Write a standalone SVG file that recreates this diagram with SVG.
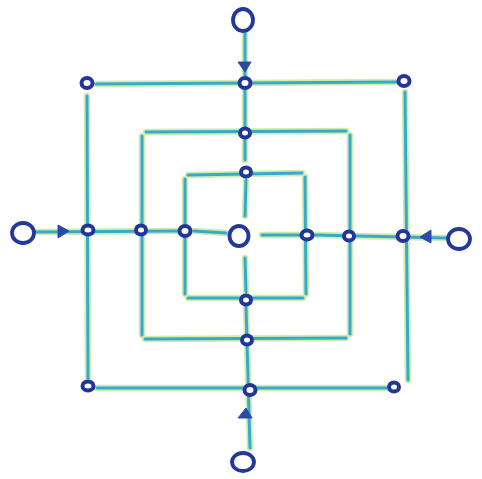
<svg xmlns="http://www.w3.org/2000/svg" width="482" height="479" viewBox="0 0 482 479">
<defs>
<filter id="soft" x="-5%" y="-5%" width="110%" height="110%"><feGaussianBlur stdDeviation="0.7"/></filter>
</defs>
<style>
.halo{stroke:#c6e79a;stroke-width:6.5;stroke-linecap:round;fill:none;opacity:0.8}
.ln{stroke:#36abcc;stroke-width:3;stroke-linecap:round;fill:none}
.nd{fill:#ffffff;stroke:#22369a;stroke-width:4}
.big{fill:#ffffff;stroke:#24389b;stroke-width:3.8}
.arr{fill:#2a4aa8;stroke:#2a4aa8;stroke-width:1}
</style>
<rect width="482" height="479" fill="#ffffff"/>
<g filter="url(#soft)">
<g id="connectors">
  <g class="halo">
    <path d="M96,84 L396,82 M87,96 L88,378 M405,92 L408,380 M97,388 L386,388"/>
    <path d="M146,132 L346,131 M142,136 L142,335 M350,135 L350,334 M145,339 L346,338"/>
    <path d="M188,175 L302,173 M185,179 L185,294 M305,177 L306,294 M188,298 L303,298"/>
    <path d="M245,32 L245,160 M246,180 L245,216 M245,258 L246,292 M246,306 L250,448"/>
    <path d="M36,232 L178,231 M194,231 L226,233 M262,235 L300,235 M315,235 L446,238"/>
  </g>
  <g class="ln">
    <path d="M96,84 L396,82 M87,96 L88,378 M405,92 L408,380 M97,388 L386,388"/>
    <path d="M146,132 L346,131 M142,136 L142,335 M350,135 L350,334 M145,339 L346,338"/>
    <path d="M188,175 L302,173 M185,179 L185,294 M305,177 L306,294 M188,298 L303,298"/>
    <path d="M245,32 L245,160 M246,180 L245,216 M245,258 L246,292 M246,306 L250,448"/>
    <path d="M36,232 L178,231 M194,231 L226,233 M262,235 L300,235 M315,235 L446,238"/>
  </g>
  <g id="arrowheads">
    <path class="arr" d="M238,62 L251,62 L245,72 Z"/>
    <path class="arr" d="M58,225 L58,238 L69,231 Z"/>
    <path class="arr" d="M431,230 L431,243 L420,237 Z"/>
    <path class="arr" d="M238,418 L252,418 L246,408 Z"/>
  </g>
</g>
<g id="in-top"><ellipse class="big" cx="243" cy="20" rx="10" ry="11"/></g>
<g id="in-left"><ellipse class="big" cx="23" cy="233" rx="11" ry="10"/></g>
<g id="in-right"><ellipse class="big" cx="459" cy="239" rx="11" ry="10"/></g>
<g id="in-bottom"><ellipse class="big" cx="243" cy="462" rx="11" ry="9"/></g>
<g id="center"><ellipse class="big" cx="239" cy="236" rx="9.5" ry="10" stroke-width="5.5"/></g>
<g id="c-tl"><ellipse class="nd" cx="87" cy="83" rx="5.5" ry="5"/></g>
<g id="c-tr"><ellipse class="nd" cx="404" cy="81" rx="5.5" ry="5"/></g>
<g id="c-bl"><ellipse class="nd" cx="88" cy="386" rx="5.5" ry="4.5"/></g>
<g id="c-br"><ellipse class="nd" cx="394" cy="387" rx="5" ry="4.5"/></g>
<g id="v1"><ellipse class="nd" cx="245" cy="83" rx="5.5" ry="5"/></g>
<g id="v2"><ellipse class="nd" cx="245" cy="133" rx="5" ry="4.5"/></g>
<g id="v3"><ellipse class="nd" cx="246" cy="172" rx="5" ry="4.5"/></g>
<g id="v4"><ellipse class="nd" cx="246" cy="300" rx="5" ry="4.5"/></g>
<g id="v5"><ellipse class="nd" cx="247" cy="340" rx="5" ry="4.5"/></g>
<g id="v6"><ellipse class="nd" cx="250" cy="390" rx="5.5" ry="5"/></g>
<g id="h1"><ellipse class="nd" cx="88" cy="230" rx="5.5" ry="4.5"/></g>
<g id="h2"><ellipse class="nd" cx="141" cy="230" rx="5" ry="4.5"/></g>
<g id="h3"><ellipse class="nd" cx="185" cy="231" rx="5.5" ry="5"/></g>
<g id="h4"><ellipse class="nd" cx="307" cy="235" rx="5.5" ry="4.5"/></g>
<g id="h5"><ellipse class="nd" cx="349" cy="236" rx="5" ry="4.5"/></g>
<g id="h6"><ellipse class="nd" cx="403" cy="236" rx="5.5" ry="5"/></g>
</g>
</svg>
